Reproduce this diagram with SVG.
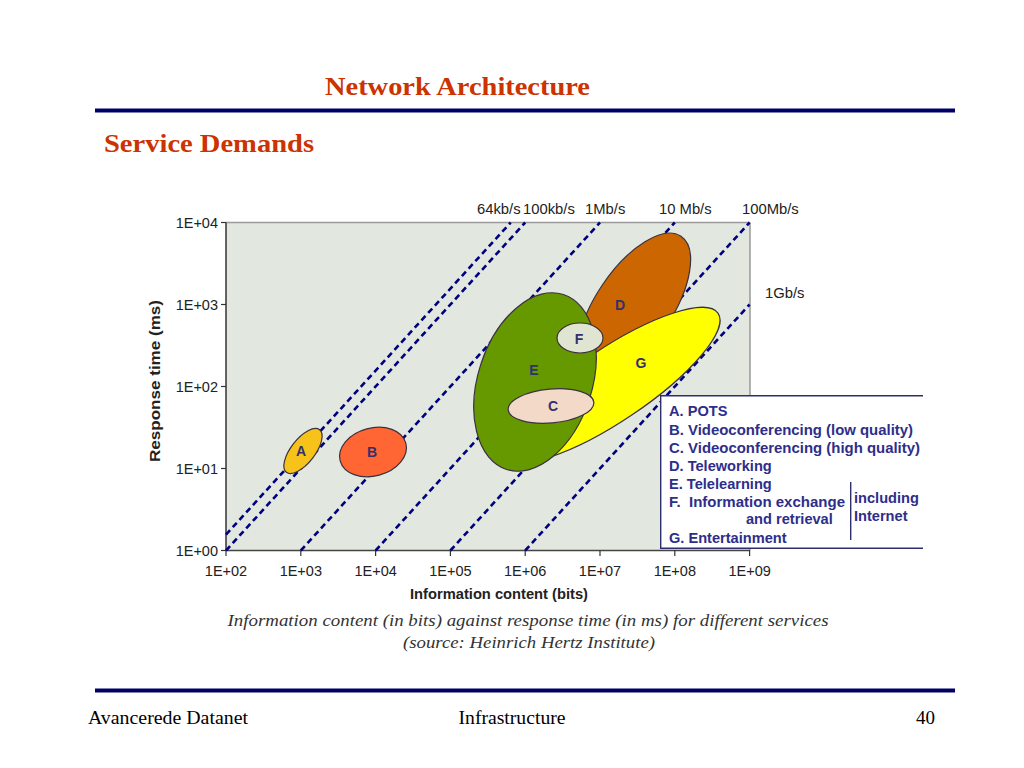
<svg xmlns="http://www.w3.org/2000/svg" width="1024" height="768" viewBox="0 0 1024 768">
<defs>
<style>
.title{font-family:"Liberation Serif","Times New Roman",serif;font-weight:bold;fill:#CC3300}
.foot{font-family:"Liberation Serif","Times New Roman",serif;font-size:19px;fill:#000}
.cap{font-family:"Liberation Serif","Times New Roman",serif;font-style:italic;font-size:17px;fill:#333}
.tick{font-family:"Liberation Sans",Arial,sans-serif;font-size:14.5px;fill:#222}
.axl{font-family:"Liberation Sans",Arial,sans-serif;font-size:15px;font-weight:bold;fill:#222}
.rate{font-family:"Liberation Sans",Arial,sans-serif;font-size:14.8px;fill:#222}
.lbl{font-family:"Liberation Sans",Arial,sans-serif;font-size:14px;font-weight:bold;fill:#33306E;text-anchor:middle}
.leg{font-family:"Liberation Sans",Arial,sans-serif;font-size:14.6px;font-weight:bold;fill:#2E2E8A}
.rule{stroke:#000066;stroke-width:4}
.dash{stroke:#000080;stroke-width:2.6;stroke-dasharray:6 4;fill:none}
.ell{stroke:#3a3040;stroke-width:1.2}
</style>
</defs>
<rect width="1024" height="768" fill="#ffffff"/>
<text class="title" x="325" y="95" font-size="25" textLength="265" lengthAdjust="spacingAndGlyphs">Network Architecture</text>
<line class="rule" x1="95" y1="110.5" x2="955" y2="110.5"/>
<text class="title" x="104" y="152" font-size="25" textLength="210" lengthAdjust="spacingAndGlyphs">Service Demands</text>

<g id="plot">
<rect x="226" y="222.5" width="524" height="328" fill="#E2E8DF"/>
<line x1="226" y1="222.5" x2="750" y2="222.5" stroke="#999" stroke-width="1.5"/>
<line x1="750" y1="222.5" x2="750" y2="550.5" stroke="#999" stroke-width="1.5"/>
<line x1="226" y1="222.5" x2="226" y2="550.5" stroke="#333" stroke-width="1.5"/>
<line x1="226" y1="550.5" x2="750" y2="550.5" stroke="#444" stroke-width="1.5"/>
<g stroke="#333" stroke-width="1.2">
<line x1="221" y1="222.5" x2="226" y2="222.5"/>
<line x1="221" y1="304.5" x2="226" y2="304.5"/>
<line x1="221" y1="386.5" x2="226" y2="386.5"/>
<line x1="221" y1="468.5" x2="226" y2="468.5"/>
<line x1="221" y1="550.5" x2="226" y2="550.5"/>
<line x1="226" y1="550.5" x2="226" y2="556"/>
<line x1="300.8" y1="550.5" x2="300.8" y2="556"/>
<line x1="375.6" y1="550.5" x2="375.6" y2="556"/>
<line x1="450.4" y1="550.5" x2="450.4" y2="556"/>
<line x1="525.2" y1="550.5" x2="525.2" y2="556"/>
<line x1="600" y1="550.5" x2="600" y2="556"/>
<line x1="674.8" y1="550.5" x2="674.8" y2="556"/>
<line x1="749.6" y1="550.5" x2="749.6" y2="556"/>
</g>
<g class="tick" text-anchor="end">
<text x="218" y="227.5">1E+04</text>
<text x="218" y="309.5">1E+03</text>
<text x="218" y="391.5">1E+02</text>
<text x="218" y="473.5">1E+01</text>
<text x="218" y="555.5">1E+00</text>
</g>
<g class="tick" text-anchor="middle">
<text x="226" y="576">1E+02</text>
<text x="300.8" y="576">1E+03</text>
<text x="375.6" y="576">1E+04</text>
<text x="450.4" y="576">1E+05</text>
<text x="525.2" y="576">1E+06</text>
<text x="600" y="576">1E+07</text>
<text x="674.8" y="576">1E+08</text>
<text x="749.6" y="576">1E+09</text>
</g>
<text class="axl" x="499" y="599" text-anchor="middle" textLength="178" lengthAdjust="spacingAndGlyphs">Information content (bits)</text>
<text class="axl" transform="translate(160 381) rotate(-90)" text-anchor="middle" font-size="16.5" textLength="162" lengthAdjust="spacingAndGlyphs">Response time (ms)</text>
</g>

<g id="connectors">
<line class="dash" x1="226" y1="534.6" x2="510.7" y2="222.5"/>
<line class="dash" x1="226" y1="550.5" x2="525.2" y2="222.5"/>
<line class="dash" x1="300.8" y1="550.5" x2="600" y2="222.5"/>
<line class="dash" x1="375.6" y1="550.5" x2="674.8" y2="222.5"/>
<line class="dash" x1="450.4" y1="550.5" x2="749.6" y2="222.5"/>
<line class="dash" x1="525.2" y1="550.5" x2="749.6" y2="304.5"/>
</g>
<g id="rates" class="rate">
<text x="477" y="214">64kb/s</text>
<text x="523" y="214">100kb/s</text>
<text x="585" y="214">1Mb/s</text>
<text x="659" y="214">10 Mb/s</text>
<text x="742" y="214">100Mb/s</text>
<text x="765" y="298">1Gb/s</text>
</g>

<g id="node-D"><ellipse class="ell" cx="634" cy="306" rx="84" ry="38" transform="rotate(-56 634 306)" fill="#CC6600"/><text class="lbl" x="620" y="310">D</text></g>
<g id="node-G"><ellipse class="ell" cx="612" cy="385" rx="128" ry="36" transform="rotate(-34 612 385)" fill="#FFFF00"/><text class="lbl" x="641" y="368">G</text></g>
<g id="node-E"><ellipse class="ell" cx="535" cy="382" rx="92" ry="57" transform="rotate(-72 535 382)" fill="#669900"/><text class="lbl" x="534" y="375">E</text></g>
<g id="node-C"><ellipse class="ell" cx="551" cy="406" rx="43" ry="17" transform="rotate(-5 551 406)" fill="#F2D9C8"/><text class="lbl" x="553" y="411">C</text></g>
<g id="node-F"><ellipse class="ell" cx="580" cy="338" rx="23" ry="15" fill="#DFE5D0"/><text class="lbl" x="579" y="344">F</text></g>
<g id="node-A"><ellipse class="ell" cx="303" cy="451" rx="27" ry="12" transform="rotate(-52 303 451)" fill="#F7C21A"/><text class="lbl" x="301" y="456">A</text></g>
<g id="node-B"><ellipse class="ell" cx="373" cy="452" rx="34" ry="24" transform="rotate(-15 373 452)" fill="#FF6633"/><text class="lbl" x="372" y="457">B</text></g>

<g id="legend">
<rect x="660.7" y="395.7" width="263" height="152.6" fill="#ffffff"/>
<polyline points="923,395.7 660.7,395.7 660.7,548.3 923,548.3" fill="none" stroke="#2E2E6E" stroke-width="1.4"/>
<line x1="850.7" y1="482" x2="850.7" y2="540" stroke="#2E2E6E" stroke-width="1.4"/>
<text class="leg" x="669" y="416">A. POTS</text>
<text class="leg" x="669" y="435" textLength="244" lengthAdjust="spacingAndGlyphs">B. Videoconferencing (low quality)</text>
<text class="leg" x="669" y="453" textLength="251" lengthAdjust="spacingAndGlyphs">C. Videoconferencing (high quality)</text>
<text class="leg" x="669" y="471">D. Teleworking</text>
<text class="leg" x="669" y="489">E. Telelearning</text>
<text class="leg" x="669" y="507" xml:space="preserve" textLength="176" lengthAdjust="spacingAndGlyphs">F.  Information exchange</text>
<text class="leg" x="746" y="524">and retrieval</text>
<text class="leg" x="669" y="543">G. Entertainment</text>
<text class="leg" x="854" y="503">including</text>
<text class="leg" x="854" y="521">Internet</text>
</g>

<text class="cap" x="528" y="626" text-anchor="middle" textLength="601" lengthAdjust="spacingAndGlyphs">Information content (in bits) against response time (in ms) for different services</text>
<text class="cap" x="529" y="648" text-anchor="middle" textLength="252" lengthAdjust="spacingAndGlyphs">(source: Heinrich Hertz Institute)</text>

<line class="rule" x1="95" y1="690.5" x2="955" y2="690.5"/>
<text class="foot" x="88" y="724" textLength="160" lengthAdjust="spacingAndGlyphs">Avancerede Datanet</text>
<text class="foot" x="512" y="724" text-anchor="middle" textLength="107" lengthAdjust="spacingAndGlyphs">Infrastructure</text>
<text class="foot" x="935" y="724" text-anchor="end">40</text>
</svg>
